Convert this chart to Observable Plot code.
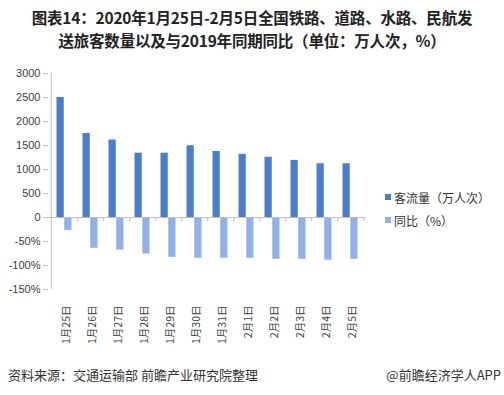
<!DOCTYPE html>
<html>
<head>
<meta charset="utf-8">
<script src="https://cdn.jsdelivr.net/npm/d3@7"></script>
<script src="https://cdn.jsdelivr.net/npm/@observablehq/plot@0.6"></script>
<style>
  html, body { margin: 0; padding: 0; background: #fff; }
  body { width: 504px; height: 395px; position: relative; overflow: hidden; font-family: "Noto Sans CJK SC", "Noto Sans", sans-serif; }
  #title { position: absolute; left: 0; top: 6px; width: 504px; text-align: center; font-weight: bold; font-size: 15.5px; line-height: 23px; color: #222; letter-spacing: -0.2px; }
  #chart { position: absolute; left: 0; top: 0; }
  #legend { position: absolute; left: 385px; top: 188px; font-size: 12px; color: #333; }
  #legend .item { display: flex; align-items: center; height: 18px; margin-bottom: 5px; }
  #legend .sw { width: 6px; height: 6px; margin-right: 3px; }
  #source { position: absolute; left: 8px; top: 365px; font-size: 13px; color: #333; }
  #brand { position: absolute; right: 3px; top: 365px; font-size: 13px; color: #333; }
</style>
</head>
<body>
<div id="chart"></div>
<div id="title">图表14：2020年1月25日-2月5日全国铁路、道路、水路、民航发<br>送旅客数量以及与2019年同期同比（单位：万人次，%）</div>
<div id="legend"></div>
<div id="source">资料来源：交通运输部 前瞻产业研究院整理</div>
<div id="brand">@前瞻经济学人APP</div>
<script>
const dates = ["1月25日","1月26日","1月27日","1月28日","1月29日","1月30日","1月31日","2月1日","2月2日","2月3日","2月4日","2月5日"];
const passengers = [2500, 1750, 1615, 1340, 1340, 1495, 1375, 1315, 1255, 1190, 1120, 1120];
const yoyPct = [-27, -64, -68, -76, -83, -85, -85, -85, -87, -87, -89, -87];
const yTicks = [-1500, -1000, -500, 0, 500, 1000, 1500, 2000, 2500, 3000];
const seriesNames = ["客流量（万人次）", "同比（%）"];
const colors = ["#4a7dcb", "#92b1ea"];

const rows = dates.map((d, i) => ({date: d, pass: passengers[i], pct: yoyPct[i]}));
const bw = (504 - 48 - 138) / dates.length;

const chart = Plot.plot({
  width: 504,
  height: 395,
  marginLeft: 48,
  marginRight: 138,
  marginTop: 73,
  marginBottom: 106,
  style: {fontFamily: "Arial, 'Liberation Sans', sans-serif", fontSize: "11px", color: "#595959", background: "transparent"},
  x: {type: "band", domain: dates, padding: 0},
  y: {domain: [-1500, 3000]},
  marks: [
    Plot.barY(rows, {x: "date", y: "pass", fill: colors[0], insetLeft: 5.5, insetRight: bw / 2}),
    Plot.barY(rows, {x: "date", y: d => d.pct * 10, fill: colors[1], insetLeft: bw / 2, insetRight: 5.5}),
    Plot.ruleY([0], {stroke: "#bfbfbf", strokeWidth: 1}),
    Plot.ruleX(dates, {x: d => d, y1: 0, y2: -85, dx: bw / 2, stroke: "#bfbfbf"}),
    Plot.ruleX([dates[0]], {x: d => d, y1: -1500, y2: 3000, dx: -bw / 2, stroke: "#bfbfbf"}),
    Plot.axisY({ticks: yTicks, tickFormat: v => v >= 0 ? String(v) : (v / 10) + "%", tickSize: 5, tickPadding: 3, stroke: "#bfbfbf", label: null, fill: "#404040"}),
    Plot.axisX({tickRotate: -90, tickSize: 0, tickPadding: 16, label: null, fontSize: 10.5, fill: "#404040", fontFamily: "'Noto Sans CJK SC', sans-serif", dx: 2})
  ]
});
document.getElementById("chart").appendChild(chart);

const legend = document.getElementById("legend");
seriesNames.forEach((name, i) => {
  const item = document.createElement("div");
  item.className = "item";
  const sw = document.createElement("span");
  sw.className = "sw";
  sw.style.background = colors[i];
  const t = document.createElement("span");
  t.textContent = name;
  item.appendChild(sw);
  item.appendChild(t);
  legend.appendChild(item);
});
</script>
</body>
</html>
